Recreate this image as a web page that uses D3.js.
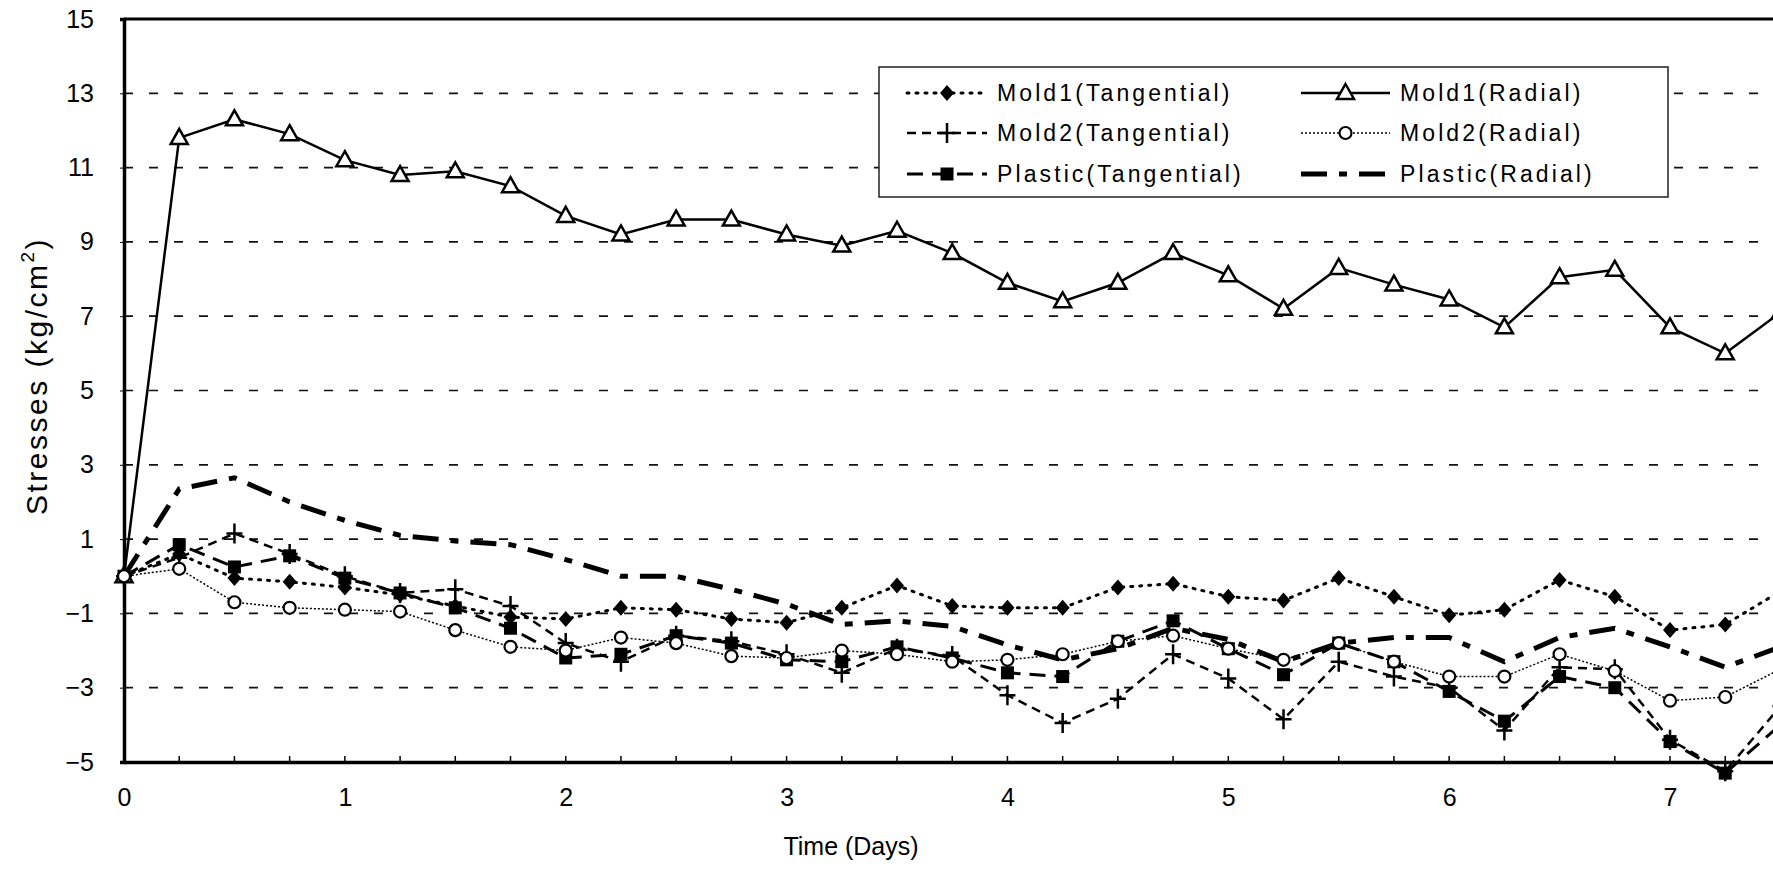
<!DOCTYPE html>
<html>
<head>
<meta charset="utf-8">
<script src="https://cdn.jsdelivr.net/npm/d3@7"></script>
<style>
  body { margin: 0; background: #fff; }
  svg { display: block; font-family: "Liberation Sans", Arial, sans-serif; }
</style>
</head>
<body>
<svg id="chart" width="1773" height="872"></svg>
<script>
var width = 1773, height = 872;

// data, one value every 0.25 day
var days = [0, 0.25, 0.5, 0.75, 1, 1.25, 1.5, 1.75, 2, 2.25, 2.5, 2.75, 3, 3.25, 3.5, 3.75,
            4, 4.25, 4.5, 4.75, 5, 5.25, 5.5, 5.75, 6, 6.25, 6.5, 6.75, 7, 7.25, 7.5];
var mold1Tan = [0, 0.6, -0.05, -0.15, -0.3, -0.5, -0.8, -1.1, -1.15, -0.85, -0.9, -1.15, -1.25, -0.85, -0.25, -0.8,
                -0.85, -0.85, -0.3, -0.2, -0.55, -0.65, -0.05, -0.55, -1.05, -0.9, -0.1, -0.55, -1.45, -1.3, -0.4];
var mold1Rad = [0, 11.8, 12.3, 11.9, 11.2, 10.8, 10.9, 10.5, 9.7, 9.2, 9.6, 9.6, 9.2, 8.9, 9.3, 8.7,
                7.9, 7.4, 7.9, 8.7, 8.1, 7.2, 8.3, 7.85, 7.45, 6.7, 8.05, 8.25, 6.7, 6.0, 7.1];
var mold2Tan = [0, 0.5, 1.15, 0.6, 0, -0.45, -0.35, -0.8, -1.8, -2.3, -1.6, -1.75, -2.1, -2.6, -1.95, -2.15,
                -3.2, -3.95, -3.3, -2.1, -2.75, -3.85, -2.3, -2.7, -3.0, -4.15, -2.45, -2.5, -4.4, -5.25, -3.5];
var mold2Rad = [0, 0.2, -0.7, -0.85, -0.9, -0.95, -1.45, -1.9, -2.0, -1.65, -1.8, -2.15, -2.2, -2.0, -2.1, -2.3,
                -2.25, -2.1, -1.75, -1.6, -1.95, -2.25, -1.8, -2.3, -2.7, -2.7, -2.1, -2.55, -3.35, -3.25, -2.5];
var plasticTan = [0, 0.85, 0.25, 0.55, -0.05, -0.45, -0.85, -1.4, -2.2, -2.1, -1.6, -1.8, -2.25, -2.3, -1.9, -2.2,
                  -2.6, -2.7, -1.75, -1.2, -1.95, -2.65, -1.8, -2.3, -3.1, -3.9, -2.7, -3.0, -4.45, -5.3, -4.0];
var plasticRad = [0, 2.35, 2.65, 2.0, 1.5, 1.1, 0.95, 0.85, 0.45, 0, 0, -0.35, -0.75, -1.3, -1.2, -1.35,
                  -1.85, -2.25, -1.95, -1.4, -1.7, -2.3, -1.8, -1.65, -1.65, -2.3, -1.65, -1.4, -1.9, -2.45, -1.9];

var xTicks = [0, 1, 2, 3, 4, 5, 6, 7];
var yTicks = [-5, -3, -1, 1, 3, 5, 7, 9, 11, 13, 15];
var gridValues = [-3, -1, 1, 3, 5, 7, 9, 11, 13];

// series styles, in legend order (column by column)
var series = [
  {name: "Mold1(Tangential)", values: mold1Tan, dash: "2,7", width: 3, marker: "diamond", cap: "round"},
  {name: "Mold2(Tangential)", values: mold2Tan, dash: "9,6", width: 2.5, marker: "plus", cap: "butt"},
  {name: "Plastic(Tangential)", values: plasticTan, dash: "16,9", width: 3, marker: "square", cap: "butt"},
  {name: "Mold1(Radial)", values: mold1Rad, dash: null, width: 2.5, marker: "triangle", cap: "butt"},
  {name: "Mold2(Radial)", values: mold2Rad, dash: "2,2", width: 1.5, marker: "circle", cap: "butt"},
  {name: "Plastic(Radial)", values: plasticRad, dash: "26,12,8,12", width: 5, marker: null, cap: "butt"}
];

var svg = d3.select("#chart");

var xScale = d3.scaleLinear().domain([0, 8]).range([124, 124 + 8 * 220.86]);
var yScale = d3.scaleLinear().domain([-5, 15]).range([762, 19]);

// dashed horizontal grid
svg.append("g")
  .selectAll("line")
  .data(gridValues)
  .enter().append("line")
    .attr("x1", xScale(0))
    .attr("x2", width)
    .attr("y1", function(d) { return yScale(d); })
    .attr("y2", function(d) { return yScale(d); })
    .attr("stroke", "#111")
    .attr("stroke-width", 1.7)
    .attr("stroke-dasharray", "9,16");

// frame: top border
svg.append("line")
  .attr("x1", xScale(0)).attr("x2", width)
  .attr("y1", yScale(15)).attr("y2", yScale(15))
  .attr("stroke", "#000").attr("stroke-width", 3);

// axes
var xAxis = d3.axisBottom(xScale)
  .tickValues(xTicks)
  .tickSize(0)
  .tickPadding(26)
  .tickFormat(d3.format("d"));
var gx = svg.append("g")
  .attr("transform", "translate(0," + yScale(-5) + ")")
  .call(xAxis);
gx.select(".domain").attr("stroke-width", 3.5);
gx.selectAll("text").attr("font-size", 25).attr("fill", "#000")
  .attr("font-family", "Liberation Sans, Arial, sans-serif");

// minor ticks on the time axis, pointing inward
svg.append("g")
  .selectAll("line")
  .data(days.concat([7.75, 8]))
  .enter().append("line")
    .attr("x1", function(d) { return xScale(d); })
    .attr("x2", function(d) { return xScale(d); })
    .attr("y1", yScale(-5))
    .attr("y2", yScale(-5) - 6)
    .attr("stroke", "#000")
    .attr("stroke-width", 1.5);

var yAxis = d3.axisLeft(yScale)
  .tickValues(yTicks)
  .tickSize(4)
  .tickPadding(26)
  .tickFormat(function(d) { return d < 0 ? "\u2212" + Math.abs(d) : d; });
var gy = svg.append("g")
  .attr("transform", "translate(" + xScale(0) + ",0)")
  .call(yAxis);
gy.select(".domain").attr("stroke-width", 3.5);
gy.selectAll("text").attr("font-size", 25).attr("fill", "#000")
  .attr("font-family", "Liberation Sans, Arial, sans-serif");

// axis titles
svg.append("text")
  .attr("x", 851)
  .attr("y", 855)
  .attr("text-anchor", "middle")
  .attr("font-size", 25)
  .text("Time (Days)");

var ylab = svg.append("text")
  .attr("transform", "translate(47,376) rotate(-90)")
  .attr("text-anchor", "middle")
  .attr("font-size", 30)
  .attr("letter-spacing", 2.5);
ylab.append("tspan").text("Stresses (kg/cm");
ylab.append("tspan").attr("font-size", 19).attr("dy", -13).text("2");
ylab.append("tspan").attr("dy", 13).text(")");

// marker drawing
function drawMarker(g, type, x, y) {
  if (type === "diamond") {
    g.append("path")
      .attr("d", "M" + x + "," + (y - 8) + "L" + (x + 7) + "," + y + "L" + x + "," + (y + 8) + "L" + (x - 7) + "," + y + "Z")
      .attr("fill", "#000");
  } else if (type === "plus") {
    g.append("path")
      .attr("d", "M" + (x - 8) + "," + y + "H" + (x + 8) + "M" + x + "," + (y - 10) + "V" + (y + 10))
      .attr("stroke", "#000").attr("stroke-width", 2.5).attr("fill", "none");
  } else if (type === "square") {
    g.append("rect")
      .attr("x", x - 6.5).attr("y", y - 6.5).attr("width", 13).attr("height", 13)
      .attr("fill", "#000");
  } else if (type === "triangle") {
    g.append("path")
      .attr("d", "M" + x + "," + (y - 9) + "L" + (x + 8.5) + "," + (y + 6) + "L" + (x - 8.5) + "," + (y + 6) + "Z")
      .attr("fill", "#fff").attr("stroke", "#000").attr("stroke-width", 2.5);
  } else if (type === "circle") {
    g.append("circle")
      .attr("cx", x).attr("cy", y).attr("r", 6)
      .attr("fill", "#fff").attr("stroke", "#000").attr("stroke-width", 2.2);
  }
}

var line = d3.line()
  .x(function(d, i) { return xScale(days[i]); })
  .y(function(d) { return yScale(d); });

// lines
var lines = svg.append("g");
series.forEach(function(s) {
  lines.append("path")
    .attr("d", line(s.values))
    .attr("fill", "none")
    .attr("stroke", "#000")
    .attr("stroke-width", s.width)
    .attr("stroke-dasharray", s.dash)
    .attr("stroke-linecap", s.cap);
});

// markers
var marks = svg.append("g");
series.forEach(function(s) {
  if (!s.marker) return;
  s.values.forEach(function(v, i) {
    drawMarker(marks, s.marker, xScale(days[i]), yScale(v));
  });
});

// legend
var legend = svg.append("g");
legend.append("rect")
  .attr("x", 879).attr("y", 67)
  .attr("width", 789).attr("height", 130)
  .attr("fill", "#fff")
  .attr("stroke", "#222")
  .attr("stroke-width", 1.5);

var colX = [907, 1301];
var rowY = [93, 133, 174];
series.forEach(function(s, i) {
  var col = Math.floor(i / 3), row = i % 3;
  var x0 = colX[col], y0 = rowY[row];
  var len = col === 0 ? 80 : 89;
  legend.append("line")
    .attr("x1", x0).attr("x2", x0 + len)
    .attr("y1", y0).attr("y2", y0)
    .attr("stroke", "#000")
    .attr("stroke-width", s.width)
    .attr("stroke-dasharray", s.dash)
    .attr("stroke-linecap", s.cap);
  if (s.marker) drawMarker(legend, s.marker, x0 + len / 2, y0);
  legend.append("text")
    .attr("x", x0 + len + 10)
    .attr("y", y0 + 8)
    .attr("font-size", 23)
    .attr("letter-spacing", 3.1)
    .text(s.name);
});
</script>
</body>
</html>
